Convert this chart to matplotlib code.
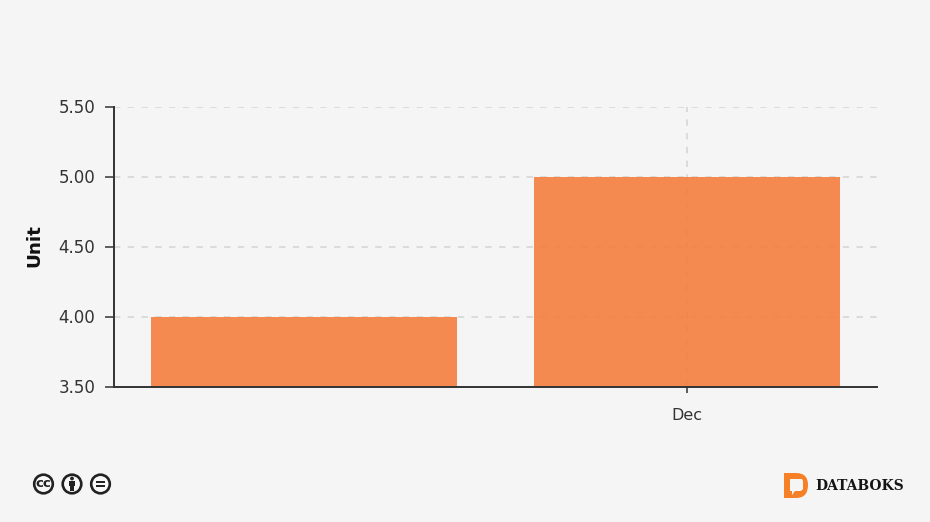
import matplotlib
matplotlib.use("Agg")
import matplotlib.pyplot as plt
from matplotlib.patches import Circle, Rectangle, PathPatch, Polygon
from matplotlib.path import Path
from matplotlib.transforms import ScaledTranslation

W, H = 930, 522
BG = "#f5f5f5"

months = ["", "Dec"]
values = [4.0, 5.0]
yticks = [3.5, 4.0, 4.5, 5.0, 5.5]

fig = plt.figure(figsize=(W / 100, H / 100), dpi=100, facecolor=BG)
ax = fig.add_axes([114 / W, 1 - 387 / H, (877 - 114) / W, 280 / H], facecolor=BG)

x = range(len(months))
ax.set_axisbelow(True)
ax.grid(True, axis="y", color="#d4d4d4", lw=1.1, ls=(0, (4.2, 4.8)), zorder=1)
ax.axvline(1, color="#d4d4d4", lw=1.1, ls=(0, (4.2, 4.8)), zorder=1)
# semi transparent bars so the grid shows faintly through them
ax.bar(x, values, width=0.8, color="#f47832", alpha=0.85, zorder=2)

ax.set_xlim(-0.498, 1.4967)
ax.set_ylim(3.5, 5.5)
ax.set_xticks([1])
ax.set_xticklabels(["Dec"], fontsize=11.5, color="#333333")
ax.set_yticks(yticks)
ax.set_yticklabels([f"{v:.2f}" for v in yticks], fontsize=12, color="#333333")
ax.tick_params(axis="x", length=4.5, width=1.1, color="#333333", pad=10.5)
ax.tick_params(axis="y", length=6.5, width=1.1, color="#333333", pad=7)
# labels sit a pixel higher than their ticks
up = ScaledTranslation(0, 1.2 / 100, fig.dpi_scale_trans)
for lab in ax.get_yticklabels():
    lab.set_transform(lab.get_transform() + up)
ax.spines["top"].set_visible(False)
ax.spines["right"].set_visible(False)
ax.spines["left"].set_color("#333333")
ax.spines["bottom"].set_color("#333333")
ax.spines["left"].set_linewidth(1.4)
ax.spines["bottom"].set_linewidth(1.4)
ax.set_ylabel("Unit", fontsize=13.2, fontweight="bold", color="#111111", labelpad=0)
ax.yaxis.set_label_coords((34 - 114) / (877 - 114), 0.505)
ax.yaxis.label.set_verticalalignment("center")

# overlay in pixel coordinates for the licence icons and the logo
ov = fig.add_axes([0, 0, 1, 1], facecolor="none")
ov.set_xlim(0, W)
ov.set_ylim(H, 0)
ov.axis("off")

DARK = "#222222"
for cx in [43.5, 72, 100.5]:
    ov.add_patch(Circle((cx, 484), 9.3, fc="#f8f8f8", ec=DARK, lw=1.9))
ov.text(43.5, 483.6, "cc", ha="center", va="center", fontsize=9.5, fontweight="bold",
        color=DARK)
# person
ov.add_patch(Circle((72, 478.5), 1.9, fc=DARK, ec="none"))
ov.add_patch(Rectangle((68.9, 481), 6.2, 5.2, fc=DARK, ec="none"))
ov.add_patch(Rectangle((70.3, 485), 3.4, 6, fc=DARK, ec="none"))
# equals
ov.add_patch(Rectangle((96, 480.9), 9, 2, fc=DARK, ec="none"))
ov.add_patch(Rectangle((96, 485), 9, 2, fc=DARK, ec="none"))

# logo: orange D with a speech bubble cut-out
ORANGE = "#f58025"
d_verts = [(784, 473), (796, 473), (808, 473), (808, 485), (808, 498), (796, 498),
           (784, 498), (784, 473)]
d_codes = [Path.MOVETO, Path.LINETO, Path.CURVE3, Path.LINETO, Path.CURVE3, Path.LINETO,
           Path.LINETO, Path.CLOSEPOLY]
ov.add_patch(PathPatch(Path(d_verts, d_codes), fc=ORANGE, ec="none"))
ov.add_patch(Polygon([(790, 479), (802, 479), (803, 481), (803, 489), (801, 491), (795, 491),
                      (792, 495), (792, 491), (790, 491)], closed=True, fc=BG, ec="none"))
ov.text(815, 485.5, "DATABOKS", ha="left", va="center", fontsize=10, fontweight="bold",
        family="DejaVu Serif", color="#151515")

fig.savefig("out.png", dpi=100, facecolor=BG)
